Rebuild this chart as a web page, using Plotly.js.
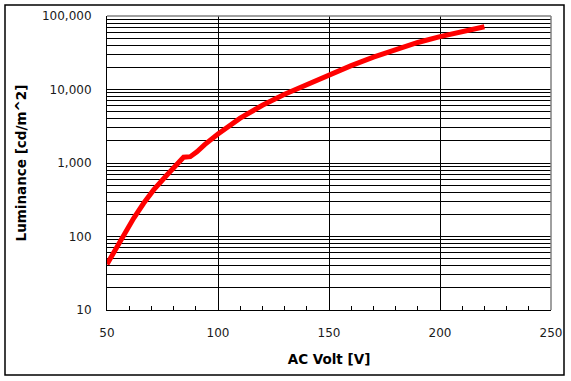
<!DOCTYPE html>
<html>
<head>
<meta charset="utf-8">
<script src="https://cdn.plot.ly/plotly-3.0.1.min.js"></script>
<style>html,body{margin:0;padding:0;background:#fff;}#chart{width:571px;height:381px;}</style>
</head>
<body>
<div id="chart"></div>
<script>
// Data
var acVolt = [50, 53.5, 58, 62, 66.5, 71, 77, 82, 84.5, 87.5, 90.5, 94, 100, 110, 120, 130, 140, 150, 160, 170, 180, 190, 200, 210, 220];
var luminance = [42, 65, 116, 177, 283, 430, 687, 990, 1200, 1220, 1420, 1780, 2480, 4070, 6100, 8610, 11750, 15850, 21100, 27500, 35100, 43650, 52500, 61700, 71300];

var xTitle = 'AC Volt [V]';
var yTitle = 'Luminance [cd/m^2]';

var trace = {
  x: acVolt, y: luminance, type: 'scatter', mode: 'lines',
  line: {color: '#ff0000', width: 5},
  hoverinfo: 'skip'
};

var tickFont = {family: 'DejaVu Sans', size: 12, color: '#1a1a1a'};
var titleFont = {family: 'DejaVu Sans', size: 13.5, color: '#000', weight: 'bold'};

var layout = {
  width: 571, height: 381,
  margin: {l: 107, r: 20, t: 16, b: 71},
  paper_bgcolor: '#fff', plot_bgcolor: '#fff',
  showlegend: false,
  xaxis: {
    range: [50, 250], dtick: 50, tick0: 50,
    showgrid: true, gridcolor: '#000', gridwidth: 1,
    zeroline: false, showline: true, linecolor: '#000', linewidth: 1,
    ticks: 'inside', ticklen: 4, tickcolor: '#000',
    minor: {dtick: 10, ticks: 'inside', ticklen: 4, tickcolor: '#000', showgrid: false},
    tickfont: tickFont, ticklabelstandoff: 12,
    title: {text: xTitle, font: titleFont, standoff: 15}
  },
  yaxis: {
    type: 'log', range: [1, 5], dtick: 1,
    tickformat: ',d',
    showgrid: true, gridcolor: '#000', gridwidth: 1,
    zeroline: false, showline: true, linecolor: '#000', linewidth: 1,
    ticks: 'inside', ticklen: 3, tickcolor: '#000',
    minor: {dtick: 'D1', showgrid: true, gridcolor: '#000', gridwidth: 1, ticks: ''},
    tickfont: tickFont, ticklabelstandoff: 12,
    title: {text: yTitle, font: titleFont, standoff: 12}
  },
  shapes: [
    {type: 'line', xref: 'paper', yref: 'paper', x0: 0, x1: 1, y0: 1, y1: 1, line: {color: '#808080', width: 1.5}, layer: 'above'},
    {type: 'line', xref: 'paper', yref: 'paper', x0: 1, x1: 1, y0: 0, y1: 1, line: {color: '#808080', width: 1.5}, layer: 'above'},
    {type: 'rect', xref: 'paper', yref: 'paper', x0: -102/444, x1: 457/444, y0: -65/294, y1: 305/294, line: {color: '#000', width: 1.5}, fillcolor: 'rgba(0,0,0,0)', layer: 'above'}
  ]
};

Plotly.newPlot('chart', [trace], layout, {displayModeBar: false, staticPlot: true});
</script>
</body>
</html>
